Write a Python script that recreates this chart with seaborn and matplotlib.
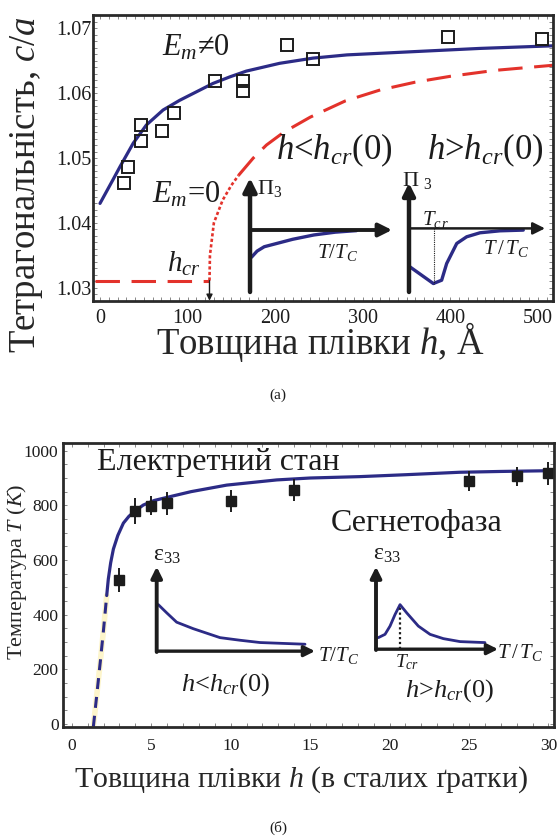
import matplotlib
matplotlib.use("Agg")
import matplotlib.pyplot as plt
import seaborn as sns
from matplotlib.ticker import MultipleLocator

# ---------------- (a) tetragonality vs film thickness ----------------
h_exp = [27.7, 32.3, 46.8, 46.8, 70.8, 84.8, 131.6, 163.6, 163.6, 213.8, 243.5, 396.9, 505.0]
ca_exp = [1.0461, 1.0486, 1.0527, 1.0551, 1.0541, 1.0569, 1.0619, 1.0619, 1.0604,
          1.0674, 1.0653, 1.0686, 1.0683]

h_em = [0, 15, 23, 38, 53, 72, 91, 110, 129, 148, 167, 205, 243, 282, 358, 434, 517]
ca_em = [1.0430, 1.0467, 1.0487, 1.0523, 1.0551, 1.0574, 1.0589, 1.0602, 1.0615,
         1.0625, 1.0634, 1.0646, 1.0654, 1.0659, 1.0664, 1.0669, 1.0673]

h_cr = 125
ca_floor = 1.0311
h_flat = [-6, h_cr]
ca_flat = [ca_floor, ca_floor]
h_e0 = [125, 125.5, 130, 140, 150, 158, 175, 190, 210, 240, 280, 320, 360, 400, 450, 517]
ca_e0 = [1.0311, 1.0350, 1.0400, 1.0435, 1.0458, 1.0473, 1.0500, 1.0520, 1.0540,
         1.0563, 1.0588, 1.0605, 1.0617, 1.0626, 1.0635, 1.0643]
n_dot = 6  # near-vertical part drawn dotted

# polarization insets
t_low = [0.01, 0.05, 0.1, 0.2, 0.3, 0.45, 0.6, 0.75]
p_low = [-0.44, -0.34, -0.27, -0.21, -0.15, -0.08, -0.035, -0.01]
t_high = [0.007, 0.179, 0.240, 0.277, 0.351, 0.424, 0.522, 0.669, 0.840]
p_high = [-0.605, -0.867, -0.815, -0.552, -0.237, -0.132, -0.069, -0.038, -0.027]
t_cr_a = 0.184

# ---------------- (б) transition temperature vs thickness ----------------
n_exp = [3, 4, 5, 6, 10, 14, 25, 28, 30]
T_exp = [527, 779, 798, 807, 816, 856, 889, 907, 917]
T_err = [43, 49, 35, 41, 41, 41, 35, 35, 41]

n_dash = [1.36, 1.6, 1.8, 2.0, 2.2]
T_dash = [-10, 120, 230, 345, 470]
n_fit = [2.2, 2.3, 2.45, 2.62, 2.9, 3.25, 3.6, 4.0, 4.5, 5.2, 6.2, 7.5, 9.75, 12.9,
         15, 18.1, 21, 24.4, 27, 30.4]
T_fit = [470, 530, 590, 640, 690, 735, 760, 780, 801, 818, 832, 850, 874, 893,
         900, 905, 912, 921, 924, 927]

# permittivity insets
t_e_low = [0.01, 0.063, 0.126, 0.231, 0.40, 0.527, 0.653, 0.937]
e_low = [0.551, 0.454, 0.343, 0.266, 0.160, 0.129, 0.102, 0.082]
t_e_high = [0.019, 0.074, 0.115, 0.156, 0.197, 0.252, 0.347, 0.443, 0.552, 0.689, 0.893]
e_high = [0.140, 0.180, 0.280, 0.420, 0.540, 0.440, 0.280, 0.180, 0.128, 0.092, 0.080]
t_cr_b = 0.197

BLUE = "#2c2b86"
RED = "#e3322b"
PALE = "#fdf5cb"
INK = "#1c1c1c"
SPINE = "#2a2a2a"

sns.set_theme(style="white")
plt.rcParams["font.family"] = ["Liberation Serif", "DejaVu Serif"]
plt.rcParams["mathtext.fontset"] = "custom"
plt.rcParams["mathtext.rm"] = "Liberation Serif"
plt.rcParams["mathtext.it"] = "Liberation Serif:italic"
plt.rcParams["mathtext.bf"] = "Liberation Serif:bold"
plt.rcParams["mathtext.fallback"] = "stix"
plt.rcParams["text.color"] = INK

fig = plt.figure(figsize=(5.57, 8.4), dpi=100)
ax1 = fig.add_axes([0.16643, 0.64202, 0.82585, 0.34012])
ax2 = fig.add_axes([0.11257, 0.13488, 0.88259, 0.33738])


def style_axes(ax, fs, lpad_x, lpad_y):
    for s in ax.spines.values():
        s.set_color(SPINE)
        s.set_linewidth(2.0)
        s.set_visible(True)
    ax.tick_params(which="both", direction="in", top=True, right=True,
                   left=True, bottom=True, length=3, width=0.7, color="#888888",
                   labelsize=fs, labelcolor=INK)
    ax.tick_params(axis="x", pad=lpad_x)
    ax.tick_params(axis="y", pad=lpad_y)
    ax.grid(False)


def arrow_axes(ax, x_tip, y0, y_top, y_bot, lw_v=3.0, lw_h=2.6, ms=18):
    ax.set_axis_off()
    ax.annotate("", xy=(0, y_top), xytext=(0, y_bot), xycoords="data",
                arrowprops=dict(arrowstyle="-|>", color=INK, lw=lw_v,
                                mutation_scale=ms, shrinkA=0, shrinkB=0))
    ax.annotate("", xy=(x_tip, y0), xytext=(0, y0), xycoords="data",
                arrowprops=dict(arrowstyle="-|>", color=INK, lw=lw_h,
                                mutation_scale=ms, shrinkA=0, shrinkB=0))


# ---------------- panel (a) ----------------
ax1.set_facecolor("white")
sns.lineplot(x=h_em, y=ca_em, ax=ax1, color=BLUE, lw=2.3, sort=False,
             estimator=None)
sns.lineplot(x=h_flat, y=ca_flat, ax=ax1, color=RED, lw=2.2, sort=False,
             estimator=None, linestyle=(0, (8, 3.8)))
sns.lineplot(x=h_e0[:n_dot], y=ca_e0[:n_dot], ax=ax1, color=RED, lw=1.9,
             sort=False, estimator=None, linestyle=(0, (1.2, 0.9)))
sns.lineplot(x=h_e0[n_dot - 1:], y=ca_e0[n_dot - 1:], ax=ax1, color=RED, lw=2.2,
             sort=False, estimator=None, linestyle=(0, (8, 3.8)))
ax1.plot(h_exp, ca_exp, linestyle="none", marker="s", ms=8.2, mfc="none",
         mec=INK, mew=1.4)

ax1.annotate("", xy=(h_cr, 1.0280), xytext=(h_cr, ca_floor),
             arrowprops=dict(arrowstyle="-|>", color=INK, lw=1.0,
                             mutation_scale=9, shrinkA=0, shrinkB=0))

ax1.set_xlim(-8.33, 516.8)
ax1.set_ylim(1.0280, 1.07205)
ax1.set_xticks([0, 100, 200, 300, 400, 500])
ax1.set_yticks([1.03, 1.04, 1.05, 1.06, 1.07])
ax1.set_yticklabels(["1.03", "1.04", "1.05", "1.06", "1.07"])
ax1.xaxis.set_minor_locator(MultipleLocator(10))
ax1.yaxis.set_minor_locator(MultipleLocator(0.001))
style_axes(ax1, 14.5, 6, 1)

ax1.set_ylabel("Тетрагональність, $c/a$", fontsize=26.5, va="center")
ax1.yaxis.set_label_coords(-0.143, 0.405)
ax1.set_xlabel("Товщина плівки $h$, Å", fontsize=26.5, va="center")
ax1.xaxis.set_label_coords(0.495, -0.145)

ax1.text(109.6, 1.06696, "$E_m$≠0", fontsize=22, ha="center", va="center")
ax1.text(98, 1.0443, "$E_m$=0", fontsize=22, ha="center", va="center")
ax1.text(267, 1.0512, "$h$<$h_{cr}$(0)", fontsize=25, ha="center", va="center")
ax1.text(439.5, 1.0512, "$h$>$h_{cr}$(0)", fontsize=25, ha="center", va="center")
ax1.text(95.9, 1.0336, "$h_{cr}$", fontsize=21, ha="center", va="center")

# P3(T) sketches
in1 = ax1.inset_axes([0.342, 0.0305, 0.3087, 0.399])
in1.set_xlim(0, 1.0)
in1.set_ylim(-1.0, 0.839)
arrow_axes(in1, 1.0, 0.0, 0.839, -1.0, lw_v=3.2, lw_h=2.8, ms=20)
sns.lineplot(x=t_low, y=p_low, ax=in1, color=BLUE, lw=2.4, sort=False,
             estimator=None)
in1.text(0.05, 0.677, "Π$_3$", fontsize=16, ha="left", va="center")
in1.text(0.472, -0.363, "$T/T_C$", fontsize=15, ha="left", va="center")

in2 = ax1.inset_axes([0.6876, 0.0305, 0.2957, 0.3815])
in2.set_xlim(0, 1.0)
in2.set_ylim(-1.0, 0.714)
arrow_axes(in2, 1.0, 0.0, 0.714, -1.0, lw_v=3.2, lw_h=1.8, ms=18)
sns.lineplot(x=t_high, y=p_high, ax=in2, color=BLUE, lw=2.4, sort=False,
             estimator=None)
in2.plot([t_cr_a, t_cr_a], [0, min(p_high)], color=INK, lw=0.8,
         linestyle=(0, (1, 1)))
in2.text(-0.05, 0.754, "Π $_3$", fontsize=16, ha="left", va="center",
         clip_on=False)
in2.text(0.096, 0.147, "$T_{c\\,r}$", fontsize=15, ha="left", va="center")
in2.text(0.544, -0.319, "$T\\,/\\,T_C$", fontsize=15, ha="left", va="center")

fig.text(0.499, 0.530, "(a)", fontsize=11, ha="center", va="center")

# ---------------- panel (б) ----------------
ax2.set_facecolor("white")
sns.lineplot(x=n_dash, y=T_dash, ax=ax2, color=PALE, lw=4.0, sort=False,
             estimator=None)
sns.lineplot(x=n_dash, y=T_dash, ax=ax2, color=BLUE, lw=2.2, sort=False,
             estimator=None, linestyle=(0, (3.6, 2.6)))
sns.lineplot(x=n_fit, y=T_fit, ax=ax2, color=BLUE, lw=2.3, sort=False,
             estimator=None)
ax2.errorbar(n_exp, T_exp, yerr=T_err, fmt="none", ecolor=INK, elinewidth=1.4,
             capsize=0)
ax2.plot(n_exp, T_exp, linestyle="none", marker="s", ms=7, mfc=INK, mec=INK)

ax2.set_xlim(-0.57, 30.37)
ax2.set_ylim(-10, 1027)
ax2.set_xticks([0, 5, 10, 15, 20, 25, 30])
ax2.set_yticks([0, 200, 400, 600, 800, 1000])
ax2.xaxis.set_minor_locator(MultipleLocator(1))
ax2.yaxis.set_minor_locator(MultipleLocator(50))
style_axes(ax2, 12.5, 8, 3)

ax2.set_ylabel("Температура $T$ ($K$)", fontsize=16, va="center")
ax2.yaxis.set_label_coords(-0.093, 0.546)
ax2.set_xlabel("Товщина плівки $h$ (в сталих ґратки)", fontsize=21.5,
               va="center")
ax2.xaxis.set_label_coords(0.485, -0.188)

ax2.text(9.2, 955, "Електретний стан", fontsize=23, ha="center", va="center")
ax2.text(21.7, 735, "Сегнетофаза", fontsize=23, ha="center", va="center")
ax2.text(9.66, 143, "$h$<$h_{cr}$(0)", fontsize=19, ha="center", va="center")
ax2.text(23.75, 121, "$h$>$h_{cr}$(0)", fontsize=19, ha="center", va="center")

# eps33(T) sketches
in3 = ax2.inset_axes([0.1912, 0.2636, 0.322, 0.301])
in3.set_xlim(0, 1.0)
in3.set_ylim(-0.01, 1.0)
arrow_axes(in3, 1.0, 0.0, 1.0, -0.01, lw_v=2.8, lw_h=2.4, ms=16)
sns.lineplot(x=t_e_low, y=e_low, ax=in3, color=BLUE, lw=2.0, sort=False,
             estimator=None)
in3.text(0.065, 1.137, "ε$_{33}$", fontsize=17, ha="center", va="center",
         clip_on=False)
in3.text(1.019, -0.053, "$T/T_C$", fontsize=15, ha="left", va="center",
         clip_on=False)

in4 = ax2.inset_axes([0.6373, 0.2706, 0.2482, 0.294])
in4.set_xlim(0, 1.0)
in4.set_ylim(-0.01, 1.0)
arrow_axes(in4, 1.0, 0.0, 1.0, -0.01, lw_v=2.8, lw_h=2.4, ms=16)
sns.lineplot(x=t_e_high, y=e_high, ax=in4, color=BLUE, lw=2.0, sort=False,
             estimator=None)
in4.plot([t_cr_b, t_cr_b], [0, max(e_high)], color=INK, lw=1.6,
         linestyle=(0, (1, 1.2)))
in4.text(0.09, 1.152, "ε$_{33}$", fontsize=17, ha="center", va="center",
         clip_on=False)
in4.text(0.989, -0.036, "$T\\,/\\,T_C$", fontsize=15, ha="left", va="center",
         clip_on=False)
in4.text(0.258, -0.156, "$T_{cr}$", fontsize=14, ha="center", va="center",
         clip_on=False)

fig.text(0.499, 0.0143, "(б)", fontsize=11, ha="center", va="center")

fig.savefig("out.png", dpi=100)
